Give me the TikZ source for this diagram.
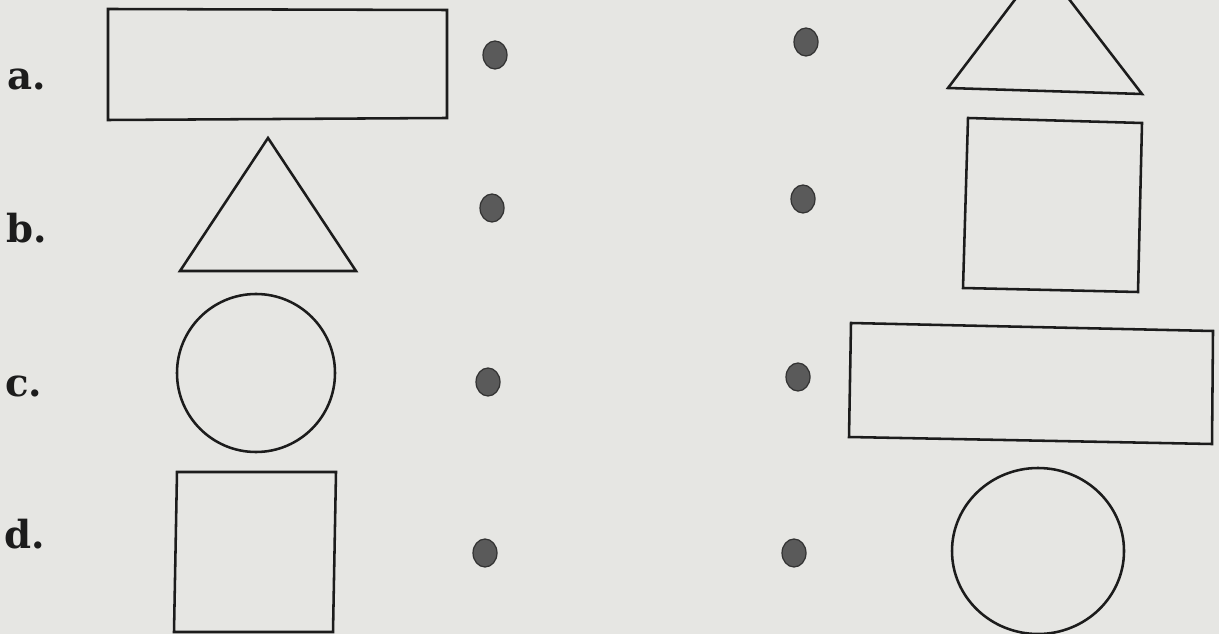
\documentclass[tikz,border=0pt]{standalone}
\usepackage{fontspec}
\usepackage{tikz}
\usetikzlibrary{positioning,shapes.geometric}
\newfontfamily\labelfont{DejaVu Serif}
\definecolor{paper}{HTML}{E6E6E3}
\definecolor{ink}{HTML}{1C1C1C}
\definecolor{dotgray}{HTML}{5A5A5A}

\begin{document}
\begin{tikzpicture}[x=0.02cm, y=-0.02cm,
  outline/.style={draw=ink, line width=1.45pt, line join=miter},
  letter/.style={anchor=base west, inner sep=0pt, text=ink, font=\labelfont\fontsize{22}{26}\selectfont\bfseries},
  blob/.style={ellipse, fill=dotgray, draw=black!80, line width=0.7pt, minimum width=0.48cm, minimum height=0.56cm, inner sep=0pt}]

% Page
\fill[paper] (0,0) rectangle (1219,634);
\useasboundingbox (0,0) rectangle (1219,634);
\clip (0,0) rectangle (1219,634);

% Labels
\node[letter] (lbla) at (7,90) {a.};
\node[letter] (lblb) at (6,243) {b.};
\node[letter] (lblc) at (5,397) {c.};
\node[letter] (lbld) at (4,548) {d.};

% Dots, left column
\node[blob] (dotla) at (495,55) {};
\node[blob] (dotlb) at (492,208) {};
\node[blob] (dotlc) at (488,382) {};
\node[blob] (dotld) at (485,553) {};

% Dots, right column
\node[blob] (dotra) at (806,42) {};
\node[blob] (dotrb) at (803,199) {};
\node[blob] (dotrc) at (798,377) {};
\node[blob] (dotrd) at (794,553) {};

% Shapes, left column
\draw[outline] (108,9) -- (447,10) -- (447,118) -- (108,120) -- cycle;
\draw[outline] (268,138) -- (356,271) -- (180,271) -- cycle;
\draw[outline] (256,373) circle [radius=79];
\draw[outline] (177,472) -- (336,472) -- (333,632) -- (174,632) -- cycle;

% Shapes, right column
\draw[outline] (1042,-36) -- (1142,94) -- (948,88) -- cycle;
\draw[outline] (968,118) -- (1142,123) -- (1138,292) -- (963,288) -- cycle;
\draw[outline] (851,323) -- (1213,331) -- (1212,444) -- (849,437) -- cycle;
\draw[outline] (1038,551) ellipse [x radius=86, y radius=83];

\end{tikzpicture}
\end{document}
